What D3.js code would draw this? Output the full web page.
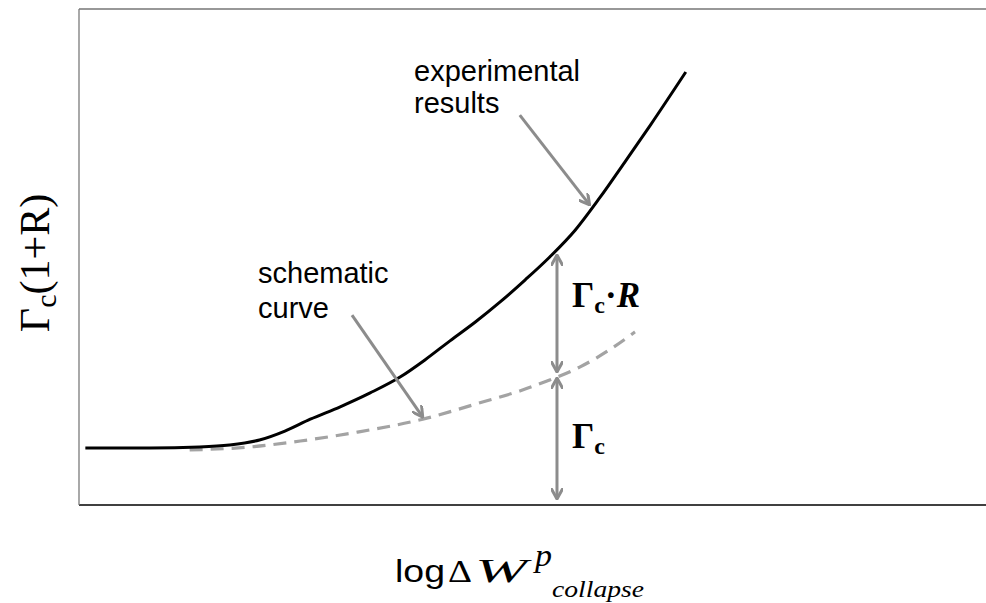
<!DOCTYPE html>
<html>
<head>
<meta charset="utf-8">
<script src="https://cdn.jsdelivr.net/npm/d3@7"></script>
<style>
  html, body { margin: 0; padding: 0; background: #fff; }
  svg { display: block; }
</style>
</head>
<body>
<svg id="chart" width="986" height="603"></svg>
<script>
// Measured curve: x = log ΔW, y = Γc(1+R), arbitrary units (0–10)
const expX = [0.07, 0.78, 1.33, 1.66, 1.99, 2.27, 2.55, 2.88, 3.21, 3.54, 3.81, 4.09, 4.37, 4.64, 4.92, 5.19, 5.47, 5.74, 6.02, 6.30, 6.69];
const expY = [1.15, 1.15, 1.17, 1.21, 1.31, 1.49, 1.73, 1.98, 2.26, 2.58, 2.92, 3.31, 3.69, 4.09, 4.54, 5.00, 5.54, 6.19, 6.92, 7.66, 8.73];

// Schematic curve (Γc only)
const schX = [1.22, 1.89, 2.44, 3.07, 3.79, 4.42, 4.86, 5.16, 5.52, 5.85, 6.13];
const schY = [1.11, 1.17, 1.29, 1.47, 1.73, 2.06, 2.30, 2.50, 2.78, 3.13, 3.49];

// Annotation arrows
const arrowStartX = [4.86, 3.01, 5.27, 5.27];
const arrowStartY = [7.86, 3.83, 5.04, 2.56];
const arrowEndX   = [5.63, 3.79, 5.27, 5.27];
const arrowEndY   = [6.05, 1.77, 2.68, 0.12];
const arrowBoth   = [false, false, true, true];

const svg = d3.select("#chart");
const x = d3.scaleLinear().domain([0, 10]).range([79, 986]);
const y = d3.scaleLinear().domain([0, 10]).range([505, 9]);

const SANS = "'Liberation Sans', Arial, sans-serif";
const SERIF = "'Liberation Serif', 'Times New Roman', serif";
const GREY = "#8c8c8c";

// arrowhead marker (open chevron)
svg.append("defs").append("marker")
  .attr("id", "head")
  .attr("viewBox", "0 0 12 12")
  .attr("refX", 11).attr("refY", 6)
  .attr("markerWidth", 12).attr("markerHeight", 12)
  .attr("markerUnits", "userSpaceOnUse")
  .attr("orient", "auto-start-reverse")
  .append("path")
  .attr("d", "M1,0.5 L11,6 L1,11.5")
  .attr("fill", "none")
  .attr("stroke", GREY)
  .attr("stroke-width", 3)
  .attr("stroke-linecap", "round")
  .attr("stroke-linejoin", "round");

// frame: top, left, bottom
svg.append("line").attr("x1", x(0)).attr("x2", x(10)).attr("y1", y(10)).attr("y2", y(10))
  .attr("stroke", "#333").attr("stroke-width", 1.2);
svg.append("line").attr("x1", x(0)).attr("x2", x(10)).attr("y1", y(0)).attr("y2", y(0))
  .attr("stroke", "#000").attr("stroke-width", 1.5);
svg.append("line").attr("x1", x(0)).attr("x2", x(0)).attr("y1", y(10)).attr("y2", y(0))
  .attr("stroke", "#7a7a7a").attr("stroke-width", 1.3);

const line = d3.line().x(d => x(d[0])).y(d => y(d[1])).curve(d3.curveMonotoneX);

// schematic (dashed)
svg.append("path")
  .attr("d", line(schX.map((v, i) => [v, schY[i]])))
  .attr("fill", "none")
  .attr("stroke", "#a3a3a3")
  .attr("stroke-width", 3.2)
  .attr("stroke-dasharray", "13,8");

// experimental (solid)
svg.append("path")
  .attr("d", line(expX.map((v, i) => [v, expY[i]])))
  .attr("fill", "none")
  .attr("stroke", "#000")
  .attr("stroke-width", 3);

// arrows
arrowStartX.forEach((sx, i) => {
  const a = svg.append("line")
    .attr("x1", x(sx)).attr("y1", y(arrowStartY[i]))
    .attr("x2", x(arrowEndX[i])).attr("y2", y(arrowEndY[i]))
    .attr("stroke", GREY).attr("stroke-width", 3)
    .attr("marker-end", "url(#head)");
  if (arrowBoth[i]) a.attr("marker-start", "url(#head)");
});

// callout text
function callout(lines, px, py, gap) {
  const t = svg.append("text").attr("font-family", SANS).attr("font-size", 29).attr("fill", "#000");
  lines.forEach((s, i) => t.append("tspan").attr("x", px).attr("y", py + i * gap).text(s));
}
callout(["experimental", "results"], 414, 81, 32);
callout(["schematic", "curve"], 258, 283, 35);

// Γc·R and Γc labels
const g1 = svg.append("text").attr("x", 572).attr("y", 307)
  .attr("font-family", SERIF).attr("font-weight", "bold").attr("font-size", 35);
g1.append("tspan").text("Γ");
g1.append("tspan").attr("font-size", 24).attr("dy", 6).text("c");
g1.append("tspan").attr("dy", -6).text("·");
g1.append("tspan").attr("font-style", "italic").text("R");

const g2 = svg.append("text").attr("x", 572).attr("y", 448)
  .attr("font-family", SERIF).attr("font-weight", "bold").attr("font-size", 35);
g2.append("tspan").text("Γ");
g2.append("tspan").attr("font-size", 24).attr("dy", 6).text("c");

// y-axis title
const yt = svg.append("text")
  .attr("transform", "translate(49,263) rotate(-90)")
  .attr("text-anchor", "middle")
  .attr("font-family", SERIF).attr("font-size", 42);
yt.append("tspan").text("Γ");
yt.append("tspan").attr("font-size", 30).attr("dy", 7).text("c");
yt.append("tspan").attr("dy", -7).text("(1+R)");

// x-axis title
function piece(s, px, py, font, size, len, italic) {
  svg.append("text").attr("x", px).attr("y", py)
    .attr("font-family", font).attr("font-size", size)
    .attr("font-style", italic ? "italic" : "normal")
    .attr("textLength", len).attr("lengthAdjust", "spacingAndGlyphs")
    .text(s);
}
piece("log", 395, 582, SANS, 31, 50, false);
piece("Δ", 448, 582, SERIF, 31, 24, false);
piece("W", 475, 582, SERIF, 34, 52, true);
piece("p", 535, 566, SERIF, 32, 17, true);
piece("collapse", 552, 597, SERIF, 24, 92, true);
</script>
</body>
</html>
